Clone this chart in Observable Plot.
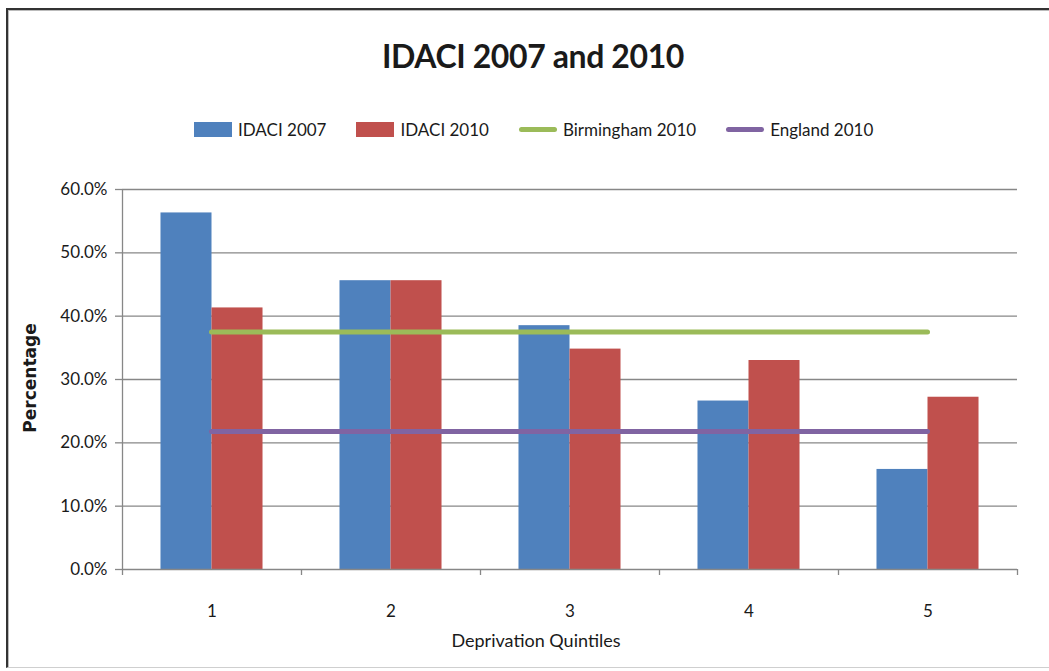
<!DOCTYPE html>
<html>
<head>
<meta charset="utf-8">
<script src="https://cdn.jsdelivr.net/npm/d3@7"></script>
<script src="https://cdn.jsdelivr.net/npm/@observablehq/plot@0.6"></script>
<style>
  body { margin: 0; background: #fff; }
  #wrap { position: relative; width: 1049px; height: 671px; overflow: hidden; font-family: Lato, "Open Sans", sans-serif; color: #1a1a1a; }
  #frame { position: absolute; left: 6px; top: 8px; width: 1080px; height: 660px; border-left: 2px solid #333; border-top: 2px solid #333; border-bottom: 1px solid #cfcfcf; box-sizing: border-box; box-shadow: inset 1px 1px 0 #bbb; }
  #title { position: absolute; top: 36px; left: 0; width: 1066px; text-align: center; font-size: 32px; font-weight: 700; letter-spacing: -0.4px; }
  #legend { position: absolute; top: 119px; left: 194px; display: flex; align-items: center; font-size: 17px; }
  .item { display: flex; align-items: center; margin-right: 30px; }
  .sw { width: 38px; margin-right: 6px; }
  #ylabel { position: absolute; left: 30px; top: 378px; transform: translate(-50%, -50%) rotate(-90deg); font-family: "DejaVu Sans", sans-serif; font-weight: 700; font-size: 17px; white-space: nowrap; }
  #xlabel { position: absolute; top: 629px; left: 0; width: 1072px; text-align: center; font-size: 18px; }
  #chart { position: absolute; left: 0; top: 160px; }
</style>
</head>
<body>
<div id="wrap">
  <div id="frame"></div>
  <div id="title">IDACI 2007 and 2010</div>
  <div id="legend"></div>
  <div id="ylabel">Percentage</div>
  <div id="xlabel">Deprivation Quintiles</div>
  <div id="chart"></div>
</div>
<script>
// ---- data ----
const quintiles = [1, 2, 3, 4, 5];
const idaci2007 = [56.3, 45.6, 38.5, 26.6, 15.8];
const idaci2010 = [41.3, 45.6, 34.8, 33.0, 27.2];
const birmingham2010 = 37.5;
const england2010 = 21.8;
const yTicks = [0, 10, 20, 30, 40, 50, 60];
const seriesNames = ["IDACI 2007", "IDACI 2010", "Birmingham 2010", "England 2010"];
const seriesColors = ["#4F81BD", "#C0504D", "#9BBB59", "#8064A2"];
const seriesKinds = ["bar", "bar", "line", "line"];

// ---- legend ----
const legend = document.getElementById("legend");
seriesNames.forEach((name, i) => {
  const item = document.createElement("div");
  item.className = "item";
  const sw = document.createElement("div");
  sw.className = "sw";
  sw.style.background = seriesColors[i];
  if (seriesKinds[i] === "bar") { sw.style.height = "15px"; }
  else { sw.style.height = "5px"; sw.style.borderRadius = "3px"; }
  const label = document.createElement("span");
  label.textContent = name;
  item.appendChild(sw);
  item.appendChild(label);
  legend.appendChild(item);
});

// ---- derived tables ----
const barWidth = 0.285; // fraction of a category step
const bars2007 = quintiles.map((q, i) => ({q, value: idaci2007[i]}));
const bars2010 = quintiles.map((q, i) => ({q, value: idaci2010[i]}));
const refLines = [
  {name: seriesNames[2], value: birmingham2010, color: seriesColors[2]},
  {name: seriesNames[3], value: england2010, color: seriesColors[3]}
];
const xDomain = [quintiles[0] - 0.5, quintiles[quintiles.length - 1] + 0.5];
const boundaries = [...quintiles.map(q => q - 0.5), quintiles[quintiles.length - 1] + 0.5];
const gridColor = "#878787";

const chart = Plot.plot({
  width: 1049,
  height: 511,
  marginLeft: 122,
  marginRight: 32,
  marginTop: 29,
  marginBottom: 102,
  x: {type: "linear", domain: xDomain, axis: null},
  y: {domain: [yTicks[0], yTicks[yTicks.length - 1]], axis: null},
  style: {fontFamily: "Lato, sans-serif", fontSize: "17px", background: "transparent", overflow: "visible", color: "#1a1a1a"},
  marks: [
    Plot.gridY(yTicks.slice(1), {stroke: gridColor, strokeOpacity: 1, strokeWidth: 1.3}),
    Plot.rectY(bars2007, {x1: d => d.q - barWidth, x2: d => d.q, y1: 0, y2: "value", fill: seriesColors[0]}),
    Plot.rectY(bars2010, {x1: d => d.q, x2: d => d.q + barWidth, y1: 0, y2: "value", fill: seriesColors[1]}),
    Plot.ruleY(refLines, {x1: quintiles[0], x2: quintiles[quintiles.length - 1], y: "value", stroke: "color", strokeWidth: 5, strokeLinecap: "round"}),
    Plot.ruleX([xDomain[0]], {y1: yTicks[0], y2: yTicks[yTicks.length - 1], stroke: gridColor, strokeWidth: 1.3}),
    Plot.ruleY([0], {stroke: gridColor, strokeWidth: 1.3}),
    Plot.axisY(yTicks, {label: null, tickSize: 7, tickPadding: 8, stroke: gridColor, strokeWidth: 1.3, fill: "#1a1a1a", fontSize: 17, tickFormat: d => d.toFixed(1) + "%"}),
    Plot.axisX(boundaries, {label: null, tickSize: 6, stroke: gridColor, strokeWidth: 1.3, tickFormat: () => ""}),
    Plot.axisX(quintiles, {label: null, tickSize: 0, tickPadding: 35, fill: "#1a1a1a", fontSize: 17, tickFormat: d => String(d)})
  ]
});
document.getElementById("chart").appendChild(chart);
</script>
</body>
</html>
